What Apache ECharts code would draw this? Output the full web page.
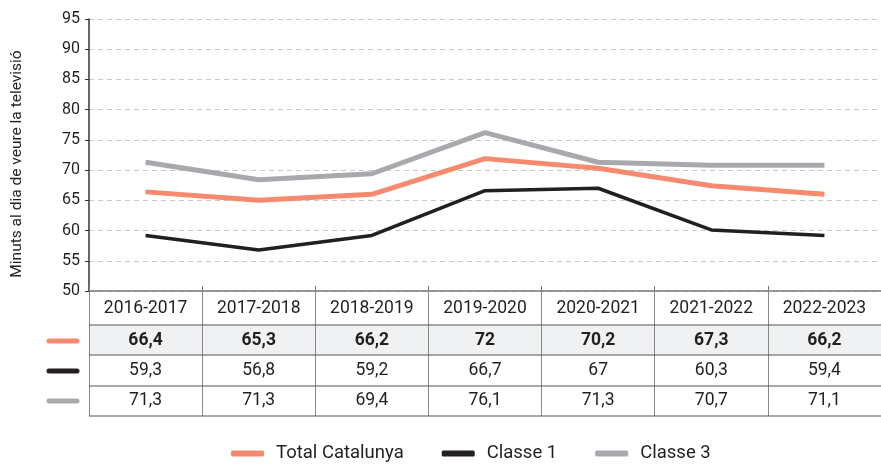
<!DOCTYPE html>
<html>
<head>
<meta charset="utf-8">
<script src="https://cdn.jsdelivr.net/npm/echarts@6/dist/echarts.min.js"></script>
<style>
  html, body { margin: 0; padding: 0; background: #fff; }
  #chart { width: 881px; height: 464px; }
</style>
</head>
<body>
<div id="chart"></div>
<script>
// cursos
const years = ['2016-2017', '2017-2018', '2018-2019', '2019-2020', '2020-2021', '2021-2022', '2022-2023'];

// valors llegits de les línies
const totalLine = [66.4, 65.0, 66.0, 71.9, 70.3, 67.4, 66.0];
const classe1Line = [59.2, 56.8, 59.2, 66.6, 67.0, 60.1, 59.2];
const classe3Line = [71.3, 68.4, 69.4, 76.2, 71.3, 70.8, 70.8];

// textos de la taula
const totalText = ['66,4', '65,3', '66,2', '72', '70,2', '67,3', '66,2'];
const classe1Text = ['59,3', '56,8', '59,2', '66,7', '67', '60,3', '59,4'];
const classe3Text = ['71,3', '71,3', '69,4', '76,1', '71,3', '70,7', '71,1'];

const colTotal = '#f58a6e';
const colC1 = '#231f20';
const colC3 = '#a9a9ad';

const gridLeft = 89, gridTop = 19, gridBottomY = 291, gridW = 795;
const rowLines = [325, 355, 386, 416];
const rowCenters = [341, 371, 401];
const font = 'Roboto, "Liberation Sans", sans-serif';

// eixos extra que fan de files de la taula
function rowAxis(texts, center, bold) {
    return {
        type: 'category',
        data: years,
        position: 'bottom',
        offset: center - gridBottomY,
        axisLine: { show: false },
        axisTick: { show: false },
        splitLine: { show: false },
        axisLabel: {
            interval: 0,
            margin: 0,
            verticalAlign: 'middle',
            fontFamily: font,
            fontSize: 17.5,
            fontWeight: bold ? 'bold' : 'normal',
            color: '#231f20',
            formatter: (v, i) => texts[i],
        },
    };
}

let chart = echarts.init(document.getElementById('chart'), null, { renderer: 'canvas' });

let graphics = [];
// fons de la fila del total
graphics.push({
    type: 'rect', z: -10,
    shape: { x: gridLeft, y: rowLines[0], width: 881 - gridLeft, height: rowLines[1] - rowLines[0] },
    style: { fill: '#f0f1f3' },
});
rowLines.forEach((y) => {
    graphics.push({
        type: 'line', z: 10,
        shape: { x1: gridLeft, y1: y, x2: 881, y2: y },
        style: { stroke: '#555', lineWidth: 1 },
    });
});
[colTotal, colC1, colC3].forEach((c, i) => {
    graphics.push({
        type: 'line', z: 10,
        shape: { x1: 49, y1: rowCenters[i], x2: 77, y2: rowCenters[i] },
        style: { stroke: c, lineWidth: 5, lineCap: 'round' },
    });
});

let option = {
    backgroundColor: '#fff',
    animation: false,
    textStyle: { fontFamily: font },
    grid: { left: gridLeft, top: gridTop, width: gridW, height: gridBottomY - gridTop, containLabel: false },
    legend: {
        left: 226,
        top: 439,
        itemWidth: 33,
        itemHeight: 6,
        itemGap: 38,
        icon: 'roundRect',
        textStyle: { fontFamily: font, fontSize: 18.5, color: '#231f20', padding: [0, 0, 0, 7] },
        data: ['Total Catalunya', 'Classe 1', 'Classe 3'],
    },
    xAxis: [
        {
            type: 'category',
            data: years,
            axisLine: { show: true, lineStyle: { color: '#777', width: 1.5 } },
            axisTick: { show: true, inside: true, length: 5, lineStyle: { color: '#777' } },
            axisLabel: {
                interval: 0,
                margin: 18,
                verticalAlign: 'middle',
                fontFamily: font,
                fontSize: 17.5,
                color: '#231f20',
            },
        },
        // línies verticals de la taula
        {
            type: 'category',
            data: years,
            position: 'bottom',
            axisLine: { show: false },
            axisTick: { show: true, inside: false, length: rowLines[3] - gridBottomY, lineStyle: { color: '#888' } },
            axisLabel: { show: false },
        },
        rowAxis(totalText, rowCenters[0], true),
        rowAxis(classe1Text, rowCenters[1], false),
        rowAxis(classe3Text, rowCenters[2], false),
    ],
    yAxis: {
        type: 'value',
        min: 50,
        max: 95,
        interval: 5,
        name: 'Minuts al dia de veure la televisió',
        nameLocation: 'middle',
        nameGap: 64,
        nameTextStyle: { fontFamily: font, fontSize: 15.5, color: '#231f20', padding: [0, 18, 0, 0] },
        axisLine: { show: true, lineStyle: { color: '#333', width: 1.5 } },
        axisTick: { show: true, length: 4, lineStyle: { color: '#333' } },
        axisLabel: { fontFamily: font, fontSize: 16, color: '#231f20', margin: 9 },
        splitLine: { show: true, lineStyle: { color: '#c8c8c8', type: [5, 4] } },
    },
    series: [
        {
            name: 'Total Catalunya', type: 'line', data: totalLine, z: 5,
            symbol: 'none', itemStyle: { color: colTotal },
            lineStyle: { color: colTotal, width: 5 },
        },
        {
            name: 'Classe 1', type: 'line', data: classe1Line, z: 4,
            symbol: 'none', itemStyle: { color: colC1 },
            lineStyle: { color: colC1, width: 3.5 },
        },
        {
            name: 'Classe 3', type: 'line', data: classe3Line, z: 3,
            symbol: 'none', itemStyle: { color: colC3 },
            lineStyle: { color: colC3, width: 5 },
        },
    ],
    graphic: graphics,
};

chart.setOption(option);
</script>
</body>
</html>
